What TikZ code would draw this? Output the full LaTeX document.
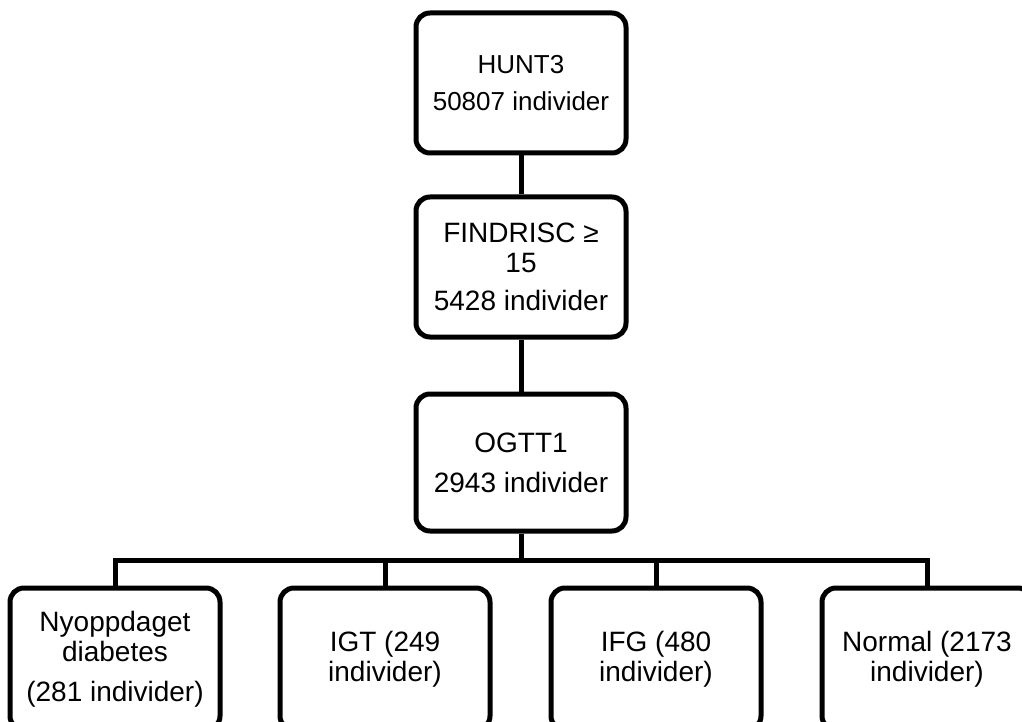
\documentclass[tikz,border=0pt]{standalone}
\usepackage{fontspec}
\setmainfont{Liberation Sans}
\begin{document}
\begin{tikzpicture}[x=1pt,y=-1pt,
  box/.style={draw, line width=5pt, rounded corners=14pt, minimum width=210pt,
    align=center, inner sep=0pt, font=\fontsize{28}{30}\selectfont},
  smalltext/.style={font=\fontsize{26}{28}\selectfont},
  link/.style={line width=5pt}]
\useasboundingbox (0,0) rectangle (1022,722);
\clip (0,0) rectangle (1022,722);

% main chain
\node[box, smalltext, minimum height=140pt] (hunt) at (521,83) {HUNT3\\[9pt]50807 individer};
\node[box, minimum height=140pt] (find) at (521,267) {FINDRISC ≥\\15\\[8pt]5428 individer};
\node[box, minimum height=137pt] (ogtt) at (521,462.5) {OGTT1\\[10pt]2943 individer};

% outcome groups
\node[box, minimum height=142pt] (nyd) at (115,659) {Nyoppdaget\\diabetes\\[10pt](281 individer)};
\node[box, minimum height=142pt] (igt) at (385,659) {IGT (249\\individer)};
\node[box, minimum height=142pt] (ifg) at (656,659) {IFG (480\\individer)};
\node[box, minimum height=142pt] (nrm) at (927,659) {Normal (2173\\individer)};

\coordinate (bus) at (521,560);

\draw[link] (hunt.south) -- (find.north);
\draw[link] (find.south) -- (ogtt.north);
\draw[link] (ogtt.south) -- (bus);
\draw[link] (nyd.north) |- (bus) -| (nrm.north);
\draw[link] (igt.north) -- (igt.north |- bus);
\draw[link] (ifg.north) -- (ifg.north |- bus);
\end{tikzpicture}
\end{document}
